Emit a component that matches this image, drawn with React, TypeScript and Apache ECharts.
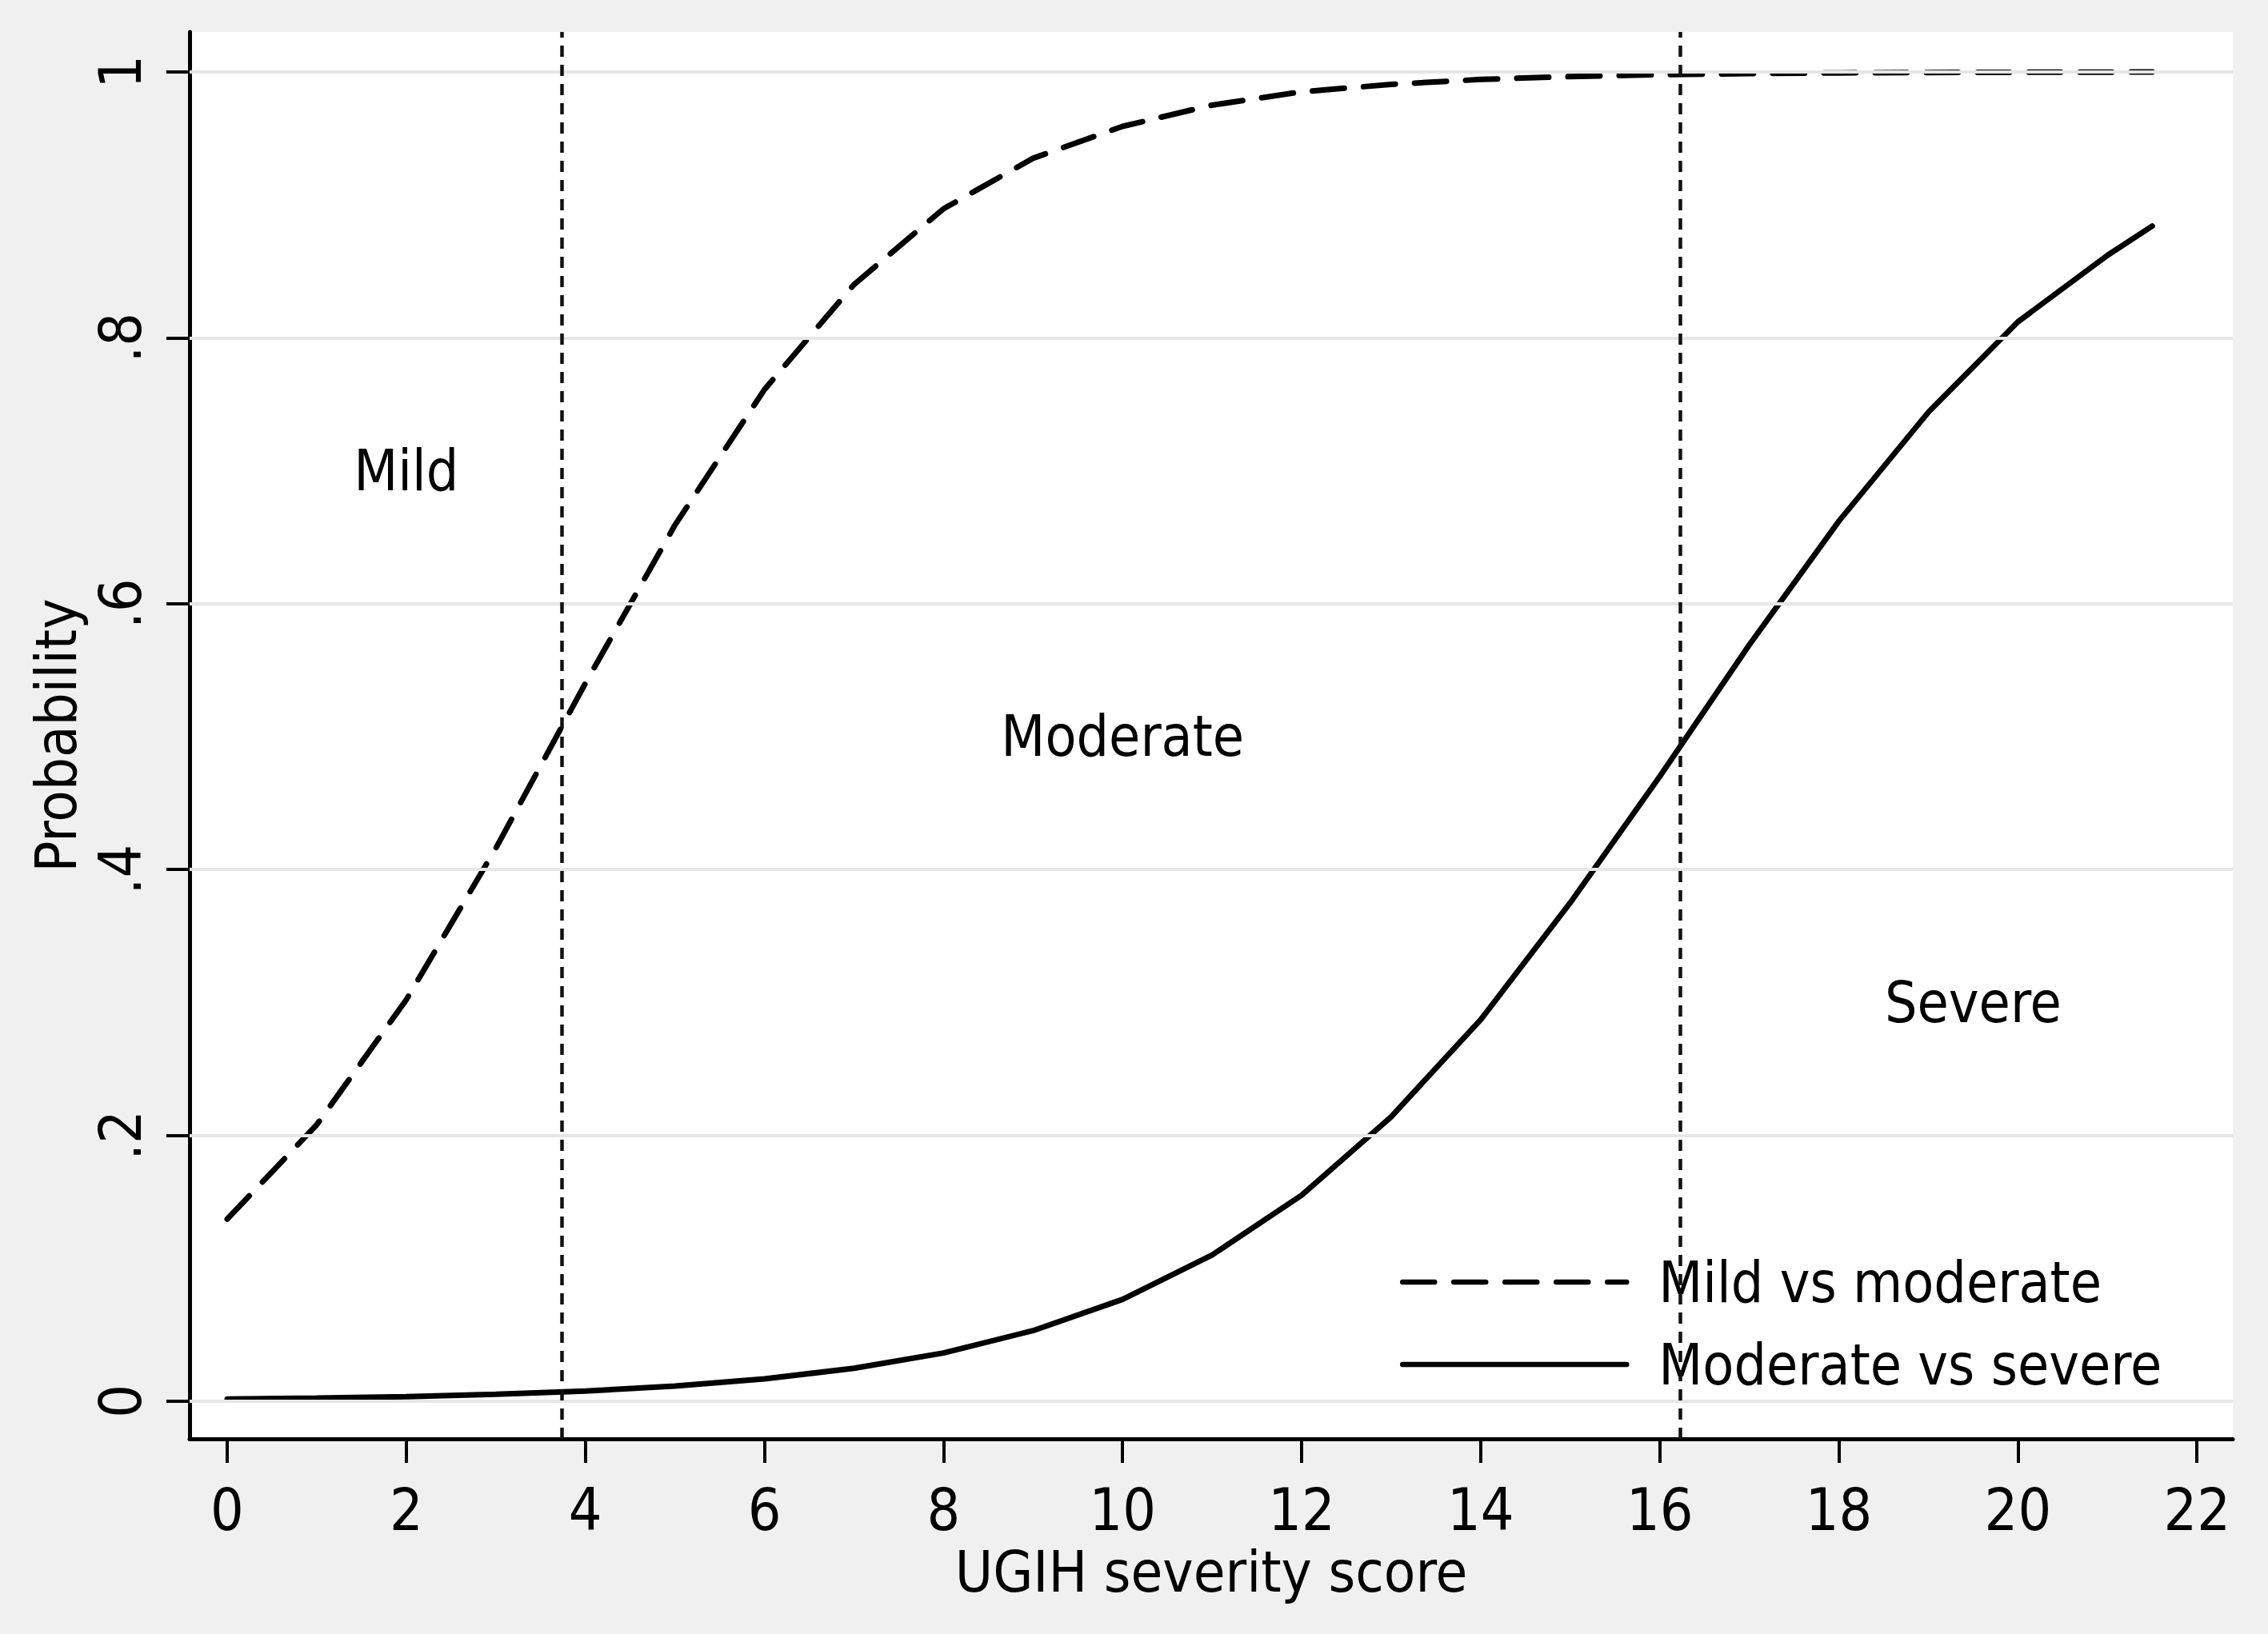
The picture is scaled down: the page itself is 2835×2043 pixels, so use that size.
import React, { useEffect, useRef } from "react";
import * as echarts from "echarts";

const xScore = [0, 1, 2, 3, 4, 5, 6, 7, 8, 9, 10, 11, 12, 13, 14, 15, 16, 17, 18, 19, 20, 21, 21.5];
const mildVsModerate = [0.137, 0.208, 0.302, 0.416, 0.54, 0.659, 0.761, 0.84, 0.897, 0.935, 0.959, 0.975, 0.985, 0.9906, 0.9943, 0.9965, 0.9979, 0.9987, 0.9992, 0.9995, 0.9997, 0.9998, 0.9999];
const moderateVsSevere = [0.0016, 0.0024, 0.0035, 0.0052, 0.0077, 0.0114, 0.0168, 0.0248, 0.0363, 0.0531, 0.0766, 0.11, 0.155, 0.214, 0.287, 0.375, 0.47, 0.569, 0.662, 0.744, 0.812, 0.862, 0.884];

const xTickValues = [0, 2, 4, 6, 8, 10, 12, 14, 16, 18, 20, 22];
const yTickValues = [0, 0.2, 0.4, 0.6, 0.8, 1];
const yTickLabels = ["0", ".2", ".4", ".6", ".8", "1"];

const cutPoints = [3.74, 16.23];

const regionLabels = [
  { x: 2, y: 0.7, name: "Mild" },
  { x: 10, y: 0.5, name: "Moderate" },
  { x: 19.5, y: 0.3, name: "Severe" },
];

const seriesNames = ["Mild vs moderate", "Moderate vs severe"];

const FONT = "'DejaVu Sans Condensed', 'DejaVu Sans', sans-serif";

export default function App() {
  const ref = useRef<HTMLDivElement>(null);
  useEffect(() => {
    if (!ref.current) return;
    const chart = echarts.init(ref.current, undefined, { renderer: "svg" });
    const option: any = {
      animation: false,
      backgroundColor: "#f0f0f0",
      textStyle: { fontFamily: FONT },
      grid: {
        left: 237,
        right: 44,
        top: 40,
        bottom: 244,
        show: true,
        backgroundColor: "#ffffff",
        borderWidth: 0,
      },
      legend: {
        data: seriesNames,
        orient: "vertical",
        left: 1745,
        top: 1558,
        itemWidth: 280,
        itemHeight: 14,
        itemGap: 23,
        itemStyle: { color: "transparent", borderWidth: 0, opacity: 0 },
        lineStyle: { width: 6.5, color: "#000" },
        textStyle: {
          fontFamily: FONT,
          fontSize: 71,
          color: "#000",
          lineHeight: 80,
          padding: [0, 0, 0, 35],
        },
        selectedMode: false,
      },
      xAxis: {
        type: "value",
        min: -0.42,
        max: 22.4,
        name: "UGIH severity score",
        nameLocation: "middle",
        nameGap: 118,
        nameTextStyle: { fontFamily: FONT, fontSize: 72, color: "#000" },
        axisLine: { show: true, onZero: false, lineStyle: { color: "#000", width: 5 } },
        axisTick: {
          show: true,
          customValues: xTickValues,
          length: 30,
          lineStyle: { color: "#000", width: 4 },
        },
        axisLabel: {
          customValues: xTickValues,
          fontFamily: FONT,
          fontSize: 73,
          color: "#000",
          margin: 52,
          formatter: (v: number) => String(v),
        },
        splitLine: { show: false },
      },
      yAxis: {
        type: "value",
        min: -0.0283,
        max: 1.03,
        name: "Probability",
        nameLocation: "middle",
        nameGap: 128,
        nameRotate: 90,
        nameTextStyle: { fontFamily: FONT, fontSize: 72, color: "#000" },
        axisLine: { show: true, onZero: false, lineStyle: { color: "#000", width: 5 } },
        axisTick: {
          show: true,
          customValues: yTickValues,
          length: 29,
          lineStyle: { color: "#000", width: 4 },
        },
        axisLabel: {
          customValues: yTickValues,
          rotate: 90,
          fontFamily: FONT,
          fontSize: 73,
          color: "#000",
          margin: 50,
          formatter: (v: number) => {
            const i = yTickValues.findIndex((t) => Math.abs(t - v) < 1e-9);
            return i >= 0 ? yTickLabels[i] : "";
          },
        },
        splitLine: { show: false },
      },
      series: [
        {
          type: "scatter",
          name: "regions",
          z: 1,
          symbolSize: 0,
          silent: true,
          itemStyle: { color: "#000", opacity: 1 },
          data: regionLabels.map((r) => ({ value: [r.x, r.y], name: r.name })),
          label: {
            show: true,
            position: "inside",
            formatter: (p: any) => p.name,
            fontFamily: FONT,
            fontSize: 71,
            color: "#000",
            opacity: 1,
            textBorderWidth: 0,
            textBorderColor: "transparent",
          },
          markLine: {
            silent: true,
            symbol: ["none", "none"],
            label: { show: false },
            emphasis: { disabled: true },
            data: [
              ...yTickValues.map((v) => ({
                yAxis: v,
                lineStyle: { color: "#e6e6e6", width: 4, type: "solid", opacity: 1 },
              })),
              ...cutPoints.map((c) => ({
                xAxis: c,
                lineStyle: { color: "#111", width: 4.5, type: [14, 10], opacity: 1 },
              })),
            ],
          },
        },
        {
          type: "line",
          name: seriesNames[0],
          z: 3,
          showSymbol: false,
          symbol: "none",
          data: xScore.map((x, i) => [x, mildVsModerate[i]]),
          lineStyle: { color: "#000", width: 7, type: [40, 24], cap: "round" },
          itemStyle: { color: "#000" },
        },
        {
          type: "line",
          name: seriesNames[1],
          z: 3,
          showSymbol: false,
          symbol: "none",
          data: xScore.map((x, i) => [x, moderateVsSevere[i]]),
          lineStyle: { color: "#000", width: 7, type: "solid", cap: "round" },
          itemStyle: { color: "#000" },
        },
      ],
    };
    chart.setOption(option);
    return () => chart.dispose();
  }, []);
  return (
    <div
      ref={ref}
      style={{ position: "absolute", left: 0, top: 0, width: 2835, height: 2043 }}
    />
  );
}
